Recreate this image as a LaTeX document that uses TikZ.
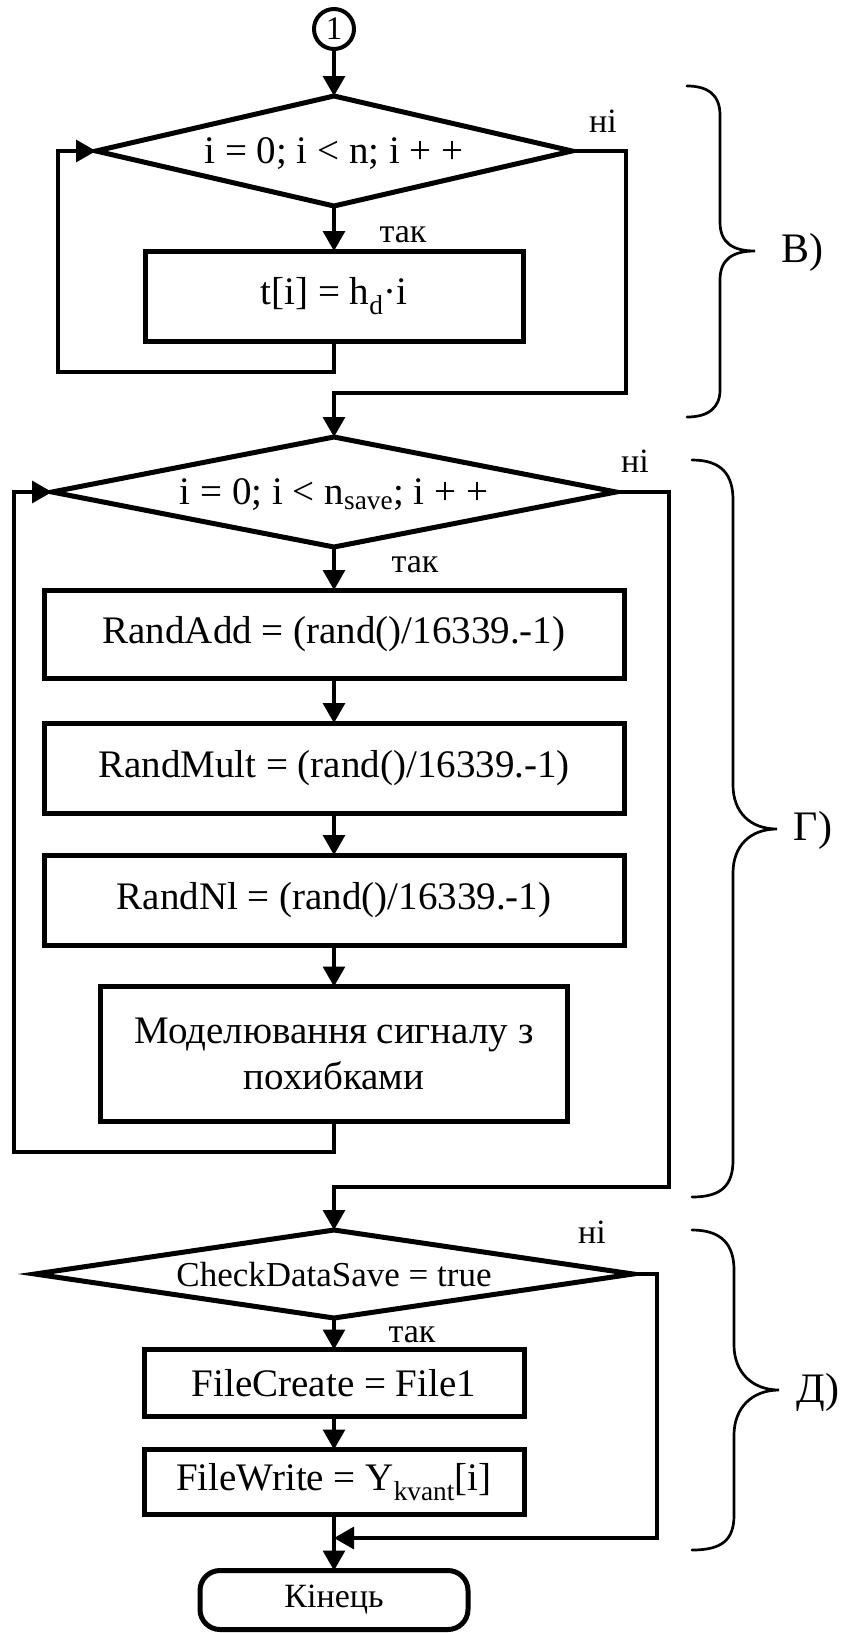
\documentclass[tikz,border=0pt]{standalone}
\usepackage{fontspec}
\setmainfont{Liberation Serif}
\usetikzlibrary{shapes.geometric,arrows.meta}

\tikzset{
  thinln/.style={line width=3.3pt},
  arr/.style={thinln,-{Triangle[length=20pt,width=22pt]}},
  stepbox/.style={draw,line width=5pt,rectangle,inner sep=0pt,outer sep=0pt,
    font=\fontsize{39}{46}\selectfont,align=center},
  decision/.style={draw,line width=5pt,diamond,inner sep=0pt,outer sep=0pt,
    text depth=0pt,font=\fontsize{39}{46}\selectfont},
  endbox/.style={draw,line width=5pt,rectangle,rounded corners=20pt,inner sep=0pt,
    outer sep=0pt,font=\fontsize{34}{40}\selectfont},
  lbl/.style={anchor=base,inner sep=0pt,font=\fontsize{34}{40}\selectfont},
  bracelbl/.style={inner sep=0pt,font=\fontsize{42}{48}\selectfont},
  bracepath/.style={line width=2.7pt,line cap=round},
}

\begin{document}
\begin{tikzpicture}[x=1pt,y=-1pt]
\useasboundingbox (0,0) rectangle (843,1633);

% connector and start
\node[draw,circle,line width=4pt,minimum size=40pt,inner sep=0pt,outer sep=0pt,
      font=\fontsize{33}{38}\selectfont] (c1) at (334,29) {1};

% block: time axis
\node[decision,minimum width=476pt,minimum height=110pt,aspect=4.33] (d1) at (334,151)
  {i = 0; i < n; i + +};
\node[stepbox,minimum width=378pt,minimum height=90pt] (b1) at (334,296)
  {t[i] = h\textsubscript{d}·i};

% block: signal generation
\node[decision,minimum width=564pt,minimum height=110pt,aspect=5.13] (d2) at (334,492)
  {i = 0; i < n\textsubscript{save}; i + +};
\node[stepbox,minimum width=580pt,minimum height=88pt] (b2) at (334,634)
  {RandAdd = (rand()/16339.-1)};
\node[stepbox,minimum width=580pt,minimum height=90pt] (b3) at (334,768)
  {RandMult = (rand()/16339.-1)};
\node[stepbox,minimum width=580pt,minimum height=90pt] (b4) at (334,900)
  {RandNl = (rand()/16339.-1)};
\node[stepbox,minimum width=467pt,minimum height=135pt] (b5) at (334,1054)
  {Моделювання сигналу з\\похибками};

% block: saving
\node[decision,minimum width=598pt,minimum height=88pt,aspect=6.8,
      font=\fontsize{35}{40}\selectfont] (d3) at (334,1274)
  {CheckDataSave = true};
\node[stepbox,minimum width=380pt,minimum height=67pt] (b6) at (334,1383)
  {FileCreate = File1};
\node[stepbox,minimum width=380pt,minimum height=65pt] (b7) at (334,1482)
  {FileWrite = Y\textsubscript{kvant}[i]};
\node[endbox,minimum width=268pt,minimum height=59pt] (t) at (334,1600) {Кінець};

% corner points of the loops
\coordinate (l1) at (58,372);
\coordinate (r1) at (626,393);
\coordinate (l2) at (14,1152);
\coordinate (r2) at (669,1187);
\coordinate (r3) at (657,1538);

% straight flow
\draw[arr] (c1.south) -- (d1.north);
\draw[arr] (d1.south) -- (b1.north);
\draw[arr] (d2.south) -- (b2.north);
\draw[arr] (b2.south) -- (b3.north);
\draw[arr] (b3.south) -- (b4.north);
\draw[arr] (b4.south) -- (b5.north);
\draw[arr] (d3.south) -- (b6.north);
\draw[arr] (b6.south) -- (b7.north);
\draw[arr] (b7.south) -- (t.north);

% loops and exits
\draw[arr] (b1.south) |- (l1) |- (d1.west);
\draw[arr] (d1.east) -| (r1) -| (d2.north);
\draw[arr] (b5.south) |- (l2) |- (d2.west);
\draw[arr] (d2.east) -| (r2) -| (d3.north);
\draw[arr] (d3.east) -| (r3) -- (r3 -| t.north);

% branch labels
\node[lbl] (y1) at (403,242) {так};
\node[lbl] (n1) at (603,132) {ні};
\node[lbl] (y2) at (415,572) {так};
\node[lbl] (n2) at (635,472) {ні};
\node[lbl] (y3) at (412,1342) {так};
\node[lbl] (n3) at (592,1243) {ні};

% section braces
\draw[bracepath] (687,86) .. controls (708,86) and (720,95) .. (720,115)
  -- (720,222) .. controls (720,243) and (733,251) .. (755,251)
  .. controls (733,251) and (720,259) .. (720,280)
  -- (720,390) .. controls (720,408) and (708,417) .. (687,417);
\node[bracelbl] (sB) at (802,252) {В)};

\draw[bracepath] (692,460) .. controls (722,460) and (733,475) .. (733,500)
  -- (733,785) .. controls (733,812) and (750,829) .. (777,829)
  .. controls (750,829) and (733,846) .. (733,873)
  -- (733,1160) .. controls (733,1185) and (722,1197) .. (692,1197);
\node[bracelbl] (sG) at (813,830) {Г)};

\draw[bracepath] (692,1230) .. controls (722,1230) and (734,1245) .. (734,1270)
  -- (734,1345) .. controls (734,1372) and (752,1390) .. (779,1390)
  .. controls (752,1390) and (734,1408) .. (734,1435)
  -- (734,1515) .. controls (734,1540) and (722,1550) .. (692,1550);
\node[bracelbl] (sD) at (818,1392) {Д)};
\end{tikzpicture}
\end{document}
